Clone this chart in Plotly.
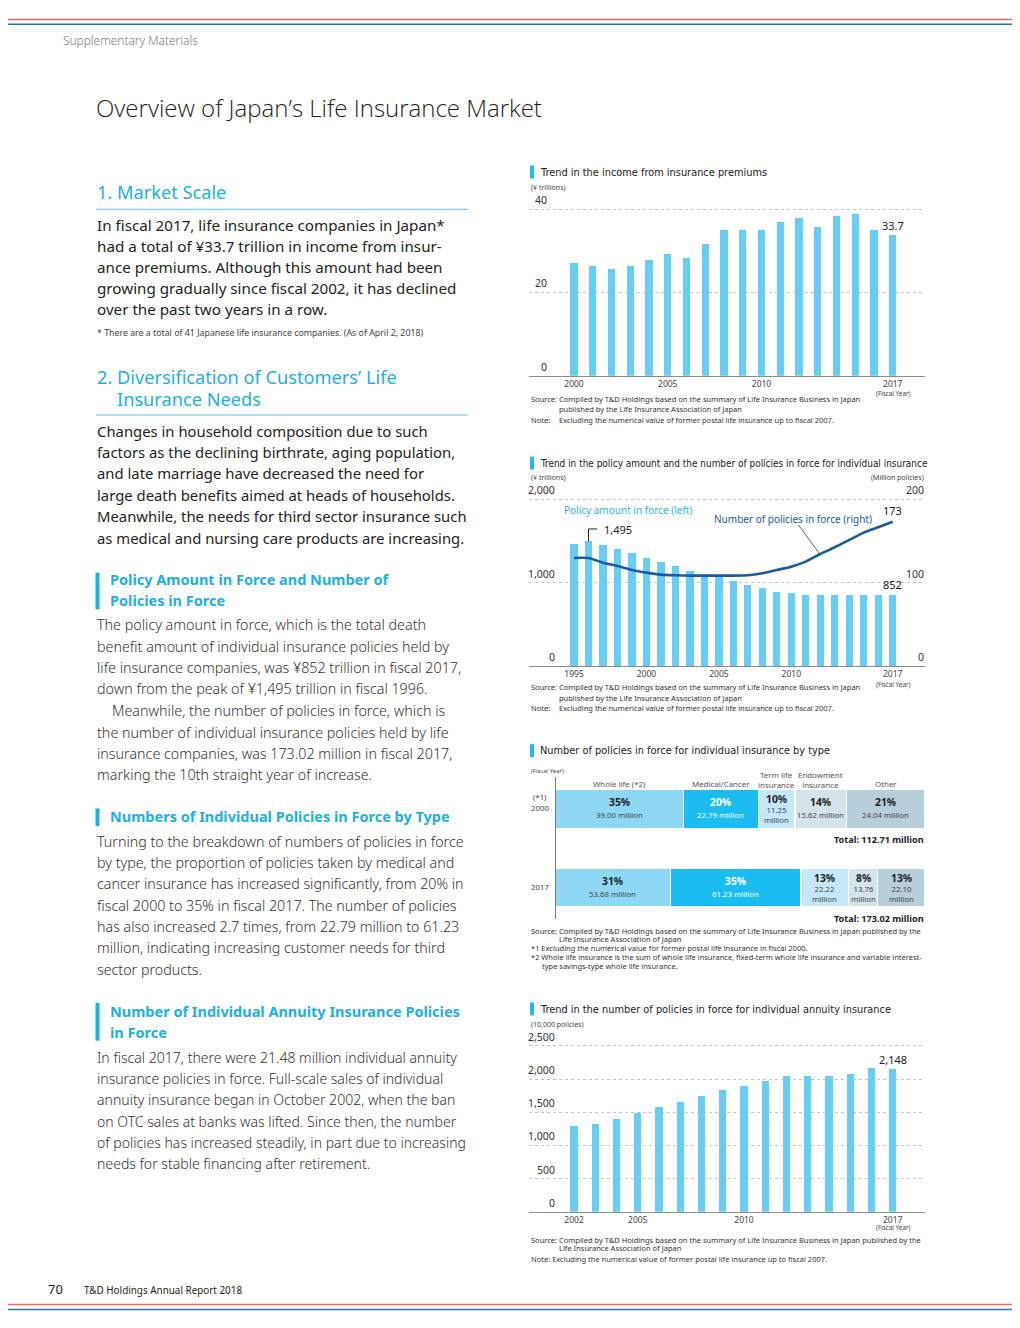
import plotly.graph_objects as go

# page is 1020x1328; the browser adds an 8px body margin, so the figure is
# 16px smaller and every page coordinate is shifted by 8px.
W, H = 1020, 1328
OFF = 8
FW, FH = W - 2 * OFF, H - 2 * OFF

# ---------------- data ----------------
years_premium = [2000, 2001, 2002, 2003, 2004, 2005, 2006, 2007, 2008,
                 2009, 2010, 2011, 2012, 2013, 2014, 2015, 2016, 2017]
premium_income = [27.0, 26.3, 25.7, 26.3, 27.7, 29.2, 28.4, 31.7, 35.1,
                  35.1, 35.0, 36.9, 37.9, 35.7, 38.5, 38.9, 35.0, 33.7]
premium_ticks = [2000, 2005, 2010, 2017]
premium_yticks = [0, 20, 40]

years_policy = [1995, 1996, 1997, 1998, 1999, 2000, 2001, 2002, 2003, 2004, 2005, 2006,
                2007, 2008, 2009, 2010, 2011, 2012, 2013, 2014, 2015, 2016, 2017]
policy_amount = [1460, 1495, 1452, 1400, 1352, 1300, 1244, 1200, 1144, 1100, 1064, 1016,
                 972, 932, 892, 872, 857, 850, 848, 848, 852, 855, 852]
policy_count = [129.6, 129.6, 124.0, 120.0, 115.2, 112.0, 109.6, 108.8, 108.4, 108.4, 108.4, 108.4,
                108.8, 111.2, 115.2, 119.2, 125.2, 134.4, 142.4, 151.2, 160.0, 166.4, 173.02]
policy_ticks = [1995, 2000, 2005, 2010, 2017]
policy_left_ticks = [0, 1000, 2000]
policy_left_text = ["0", "1,000", "2,000"]
policy_right_ticks = [0, 100, 200]

type_names = ["Whole life (*2)", "Medical/Cancer", "Term life<br>insurance",
              "Endowment<br>insurance", "Other"]
type_2000 = [39.00, 22.79, 11.25, 15.62, 24.04]
type_2017 = [53.68, 61.23, 22.22, 13.76, 22.10]
pct_2000 = ["35%", "20%", "10%", "14%", "21%"]
pct_2017 = ["31%", "35%", "13%", "8%", "13%"]
detail_2000 = ["39.00 million", "22.79 million", "11.25<br>million", "15.62 million", "24.04 million"]
detail_2017 = ["53.68 million", "61.23 million", "22.22<br>million", "13.76<br>million", "22.10<br>million"]
total_2000 = 112.71
total_2017 = 173.02

years_annuity = [2002, 2003, 2004, 2005, 2006, 2007, 2008, 2009,
                 2010, 2011, 2012, 2013, 2014, 2015, 2016, 2017]
annuity_count = [1293, 1323, 1398, 1494, 1579, 1660, 1740, 1831,
                 1901, 1972, 2042, 2047, 2047, 2072, 2173, 2148]
annuity_ticks = [2002, 2005, 2010, 2017]
annuity_yticks = [0, 500, 1000, 1500, 2000, 2500]
annuity_ytext = ["0", "500", "1,000", "1,500", "2,000", "2,500"]

# ---------------- style ----------------
BODY = "Noto Sans, Open Sans, sans-serif"
COND = "Liberation Sans Narrow, DejaVu Sans Condensed, Roboto, sans-serif"
CYAN = "#1bb0e6"
BAR = "#67cdf4"
DARKBLUE = "#1b5aa5"
TXT = "#231f20"
GRID = "#c4c4c4"
type_colors = ["#8fd8f5", "#1bbdf0", "#c3e8f8", "#d5e3eb", "#b7cedb"]
pct_colors = ["#222222", "#ffffff", "#222222", "#222222", "#222222"]
det_colors = ["#444444", "#ffffff", "#444444", "#444444", "#444444"]


def px(x):
    return (x - OFF) / FW


def py(y):
    return 1 - (y - OFF) / FH


annotations = []
shapes = []


def T(text, x, y, size, color=TXT, family=BODY, anchor="left", weight="normal",
      yanchor="middle", xref="paper", yref="paper", yshift=0):
    annotations.append(dict(
        text=text,
        x=px(x) if xref == "paper" else x,
        y=py(y) if yref == "paper" else y,
        xref=xref, yref=yref, xanchor=anchor, yanchor=yanchor, yshift=yshift,
        showarrow=False, borderpad=0,
        font=dict(size=size, color=color, family=family, weight=weight)))


def hline(x0, x1, y, color, width):
    shapes.append(dict(type="line", xref="paper", yref="paper", x0=px(x0), x1=px(x1),
                       y0=py(y), y1=py(y), line=dict(color=color, width=width)))


def rect(x0, x1, y0, y1, color):
    shapes.append(dict(type="rect", xref="paper", yref="paper", x0=px(x0), x1=px(x1),
                       y0=py(y1), y1=py(y0), fillcolor=color, line=dict(width=0)))


fig = go.Figure()

# ---------------- chart 1 ----------------
fig.add_trace(go.Bar(x=years_premium, y=premium_income, xaxis="x", yaxis="y",
                     width=0.39, marker=dict(color=BAR, line=dict(width=0))))
# ---------------- chart 2 ----------------
fig.add_trace(go.Bar(x=years_policy, y=policy_amount, xaxis="x2", yaxis="y2",
                     width=0.5, marker=dict(color=BAR, line=dict(width=0))))
fig.add_trace(go.Scatter(x=years_policy, y=policy_count, xaxis="x2", yaxis="y3", mode="lines",
                         line=dict(color=DARKBLUE, width=2.6, shape="spline", smoothing=0.6)))
# ---------------- chart 3 ----------------
share_2000 = [v / total_2000 * 100 for v in type_2000]
share_2017 = [v / total_2017 * 100 for v in type_2017]
for i in range(len(type_names)):
    fig.add_trace(go.Bar(y=[1, 0], x=[share_2000[i], share_2017[i]], orientation="h",
                         xaxis="x4", yaxis="y4", width=0.49,
                         marker=dict(color=type_colors[i], line=dict(color="white", width=1.2))))
# ---------------- chart 4 ----------------
fig.add_trace(go.Bar(x=years_annuity, y=annuity_count, xaxis="x5", yaxis="y5",
                     width=0.344, marker=dict(color=BAR, line=dict(width=0))))

tickfont = dict(size=8.5, color="#444", family=BODY)
xcommon = dict(showgrid=False, showline=True, linecolor="#8c8c8c", linewidth=1,
               ticks="", zeroline=False, tickfont=tickfont, fixedrange=True)
ycommon = dict(showgrid=True, gridcolor=GRID, griddash="dot", gridwidth=1,
               showticklabels=False, zeroline=False, ticks="", fixedrange=True)

fig.update_layout(
    width=FW, height=FH, margin=dict(l=0, r=0, t=0, b=0),
    paper_bgcolor="white", plot_bgcolor="rgba(0,0,0,0)",
    showlegend=False, barmode="stack", font=dict(family=BODY, color=TXT),
    xaxis=dict(domain=[px(529), px(925)], anchor="y", range=[1997.6, 2018.72],
               tickmode="array", tickvals=premium_ticks, **xcommon),
    yaxis=dict(domain=[py(375.7), py(205.1)], anchor="x", range=[0, 41],
               tickmode="array", tickvals=premium_yticks, **ycommon),
    xaxis2=dict(domain=[px(529), px(925)], anchor="y2", range=[1991.89, 2019.23],
                tickmode="array", tickvals=policy_ticks, **xcommon),
    yaxis2=dict(domain=[py(666), py(495.1)], anchor="x2", range=[0, 2050],
                tickmode="array", tickvals=policy_left_ticks, **ycommon),
    yaxis3=dict(overlaying="y2", anchor="x2", side="right", range=[0, 205],
                showgrid=False, showticklabels=False, zeroline=False, fixedrange=True),
    xaxis4=dict(domain=[px(555.7), px(925)], anchor="y4", range=[0, 100], visible=False,
                fixedrange=True),
    yaxis4=dict(domain=[py(919), py(777)], anchor="x4", range=[-0.41, 1.41],
                showline=True, linecolor="#7a7a7a", linewidth=1, showgrid=False,
                showticklabels=False, zeroline=False, ticks="", fixedrange=True),
    xaxis5=dict(domain=[px(529), px(925)], anchor="y5", range=[1999.88, 2018.52],
                tickmode="array", tickvals=annuity_ticks, **xcommon),
    yaxis5=dict(domain=[py(1211.7), py(1042)], anchor="x5", range=[0, 2560],
                tickmode="array", tickvals=annuity_yticks, **ycommon),
)

# ---------------- page decorations ----------------
hline(OFF, W - OFF, 19.5, "#e8646c", 1.6)
hline(OFF, W - OFF, 24.3, "#2a72b8", 1.6)
hline(OFF, W - OFF, 1304.5, "#e8646c", 1.6)
hline(OFF, W - OFF, 1309.5, "#2a72b8", 1.6)
T("Supplementary Materials", 62, 40, 11.9, color="#7a7a7a", family=BODY, weight=300)
T("Overview of Japan’s Life Insurance Market", 95, 108, 24.0, color="#231f20",
  family="Open Sans, Noto Sans", weight=300)
T("70", 47, 1289, 13, color="#231f20")
T("T&amp;D Holdings Annual Report 2018", 83, 1290, 9.9, color="#231f20")

# ---------------- left column ----------------
HS = 18.2
DY = -1.2
T("1. Market Scale", 96, 193.3 + DY, HS, color=CYAN)
hline(96, 468, 209.3, "#58c3ec", 1)
sec1 = ["In fiscal 2017, life insurance companies in Japan*",
        "had a total of ¥33.7 trillion in income from insur-",
        "ance premiums. Although this amount had been",
        "growing gradually since fiscal 2002, it has declined",
        "over the past two years in a row."]
for t, y in zip(sec1, [225.7, 246.7, 268.3, 289.3, 310.7]):
    T(t, 96, y + DY, 15.2)
T("* There are a total of 41 Japanese life insurance companies. (As of April 2, 2018)",
  96, 334 + DY, 8.8, color="#444")

T("2. Diversification of Customers’ Life", 96, 378.3 + DY, HS, color=CYAN)
T("Insurance Needs", 116, 400 + DY, HS, color=CYAN)
hline(96, 468, 415, "#58c3ec", 1)
sec2 = ["Changes in household composition due to such",
        "factors as the declining birthrate, aging population,",
        "and late marriage have decreased the need for",
        "large death benefits aimed at heads of households.",
        "Meanwhile, the needs for third sector insurance such",
        "as medical and nursing care products are increasing."]
for t, y in zip(sec2, [431.7, 453.3, 474.3, 496, 517.3, 539]):
    T(t, 96, y + DY, 14.85)

HB = 14.5
rect(95.5, 99.5, 572.7, 609.3, CYAN)
T("Policy Amount in Force and Number of", 109, 580 + DY, HB, color=CYAN, weight="bold")
T("Policies in Force", 109, 601 + DY, HB, color=CYAN, weight="bold")
sec3 = ["The policy amount in force, which is the total death",
        "benefit amount of individual insurance policies held by",
        "life insurance companies, was ¥852 trillion in fiscal 2017,",
        "down from the peak of ¥1,495 trillion in fiscal 1996.",
        "Meanwhile, the number of policies in force, which is",
        "the number of individual insurance policies held by life",
        "insurance companies, was 173.02 million in fiscal 2017,",
        "marking the 10th straight year of increase."]
for i, (t, y) in enumerate(zip(sec3, [625.7, 647.3, 668.7, 690, 711.7, 733.3, 754.3, 775.7])):
    T(t, 110.5 if i == 4 else 96, y + DY, 14.3, color="#333", weight=300)

rect(95.5, 99.5, 808.5, 826, CYAN)
T("Numbers of Individual Policies in Force by Type", 109, 816.7 + DY, HB, color=CYAN, weight="bold")
sec4 = ["Turning to the breakdown of numbers of policies in force",
        "by type, the proportion of policies taken by medical and",
        "cancer insurance has increased significantly, from 20% in",
        "fiscal 2000 to 35% in fiscal 2017. The number of policies",
        "has also increased 2.7 times, from 22.79 million to 61.23",
        "million, indicating increasing customer needs for third",
        "sector products."]
for t, y in zip(sec4, [842.3, 864, 885, 906.7, 927.7, 949, 970.3]):
    T(t, 96, y + DY, 14.25, color="#333", weight=300)

rect(95.5, 99.5, 1003, 1040.7, CYAN)
T("Number of Individual Annuity Insurance Policies", 109, 1011.7 + DY, HB, color=CYAN, weight="bold")
T("in Force", 109, 1032.7 + DY, HB, color=CYAN, weight="bold")
sec5 = ["In fiscal 2017, there were 21.48 million individual annuity",
        "insurance policies in force. Full-scale sales of individual",
        "annuity insurance began in October 2002, when the ban",
        "on OTC sales at banks was lifted. Since then, the number",
        "of policies has increased steadily, in part due to increasing",
        "needs for stable financing after retirement."]
for t, y in zip(sec5, [1058.3, 1079.3, 1101, 1122.3, 1143.3, 1165]):
    T(t, 96, y + DY, 14.05, color="#333", weight=300)

# ---------------- chart titles / notes ----------------
NS = 7.5
NC = "#333"


def chart_title(text, y, size=10.9):
    rect(530, 534, y - 6.5, y + 6.5, "#1bbdf0")
    T(text, 539, y, size, color="#222", family=COND)


# chart 1
chart_title("Trend in the income from insurance premiums", 172)
T("(¥ trillions)", 530, 187.7, 7, color="#444")
for v in premium_yticks:
    T(str(v), 548, v, 10.5, color="#333", anchor="right", yanchor="bottom",
      xref="paper", yref="y", yshift=1)
T("33.7", years_premium[-1], premium_income[-1], 11, color="#222", anchor="center",
  yanchor="bottom", xref="x", yref="y", yshift=1)
T("(Fiscal Year)", 893.5, 393.3, 6.3, color="#444", anchor="center")
T("Source:", 530, 399, NS, color=NC)
T("Compiled by T&amp;D Holdings based on the summary of Life Insurance Business in Japan", 557.5, 399, NS, color=NC)
T("published by the Life Insurance Association of Japan", 557.5, 409.3, NS, color=NC)
T("Note:", 530, 420, NS, color=NC)
T("Excluding the numerical value of former postal life insurance up to fiscal 2007.", 557.5, 420, NS, color=NC)

# chart 2
chart_title("Trend in the policy amount and the number of policies in force for individual insurance",
            463, size=9.95)
T("(¥ trillions)", 530, 478, 7, color="#444")
T("(Million policies)", 925, 478, 7, color="#444", anchor="right")
for v, t in zip(policy_left_ticks, policy_left_text):
    T(t, 556, v, 10.5, color="#333", anchor="right", yanchor="bottom",
      xref="paper", yref="y2", yshift=1)
for v in policy_right_ticks:
    T(str(v), 925, v, 10.5, color="#333", anchor="right", yanchor="bottom",
      xref="paper", yref="y3", yshift=1)
T("Policy amount in force (left)", 563, 510, 10, color="#2ab5ea")
T("Number of policies in force (right)", 713, 519, 10, color=DARKBLUE)
shapes.append(dict(type="line", xref="x2", yref="y3", x0=2010.49, y0=169.2, x1=2011.96, y1=134.4,
                   line=dict(color="#333", width=0.8)))
# 1,495 bracket
shapes.append(dict(type="line", xref="x2", yref="y2", x0=years_policy[1], y0=policy_amount[1],
                   x1=years_policy[1], y1=1644, line=dict(color="#222", width=1)))
shapes.append(dict(type="line", xref="x2", yref="y2", x0=years_policy[1], y0=1644,
                   x1=1996.6, y1=1644, line=dict(color="#222", width=1)))
T("1,495", 1997.0, 1636, 11, color="#222", anchor="left", xref="x2", yref="y2")
T("173", years_policy[-1], policy_count[-1], 11, color="#222", anchor="center",
  yanchor="bottom", xref="x2", yref="y3", yshift=3)
T("852", years_policy[-1], policy_amount[-1], 11, color="#222", anchor="center",
  yanchor="bottom", xref="x2", yref="y2", yshift=2)
T("(Fiscal Year)", 893.5, 684.3, 6.3, color="#444", anchor="center")
T("Source:", 530, 686.7, NS, color=NC)
T("Compiled by T&amp;D Holdings based on the summary of Life Insurance Business in Japan", 557.5, 686.7, NS, color=NC)
T("published by the Life Insurance Association of Japan", 557.5, 697.5, NS, color=NC)
T("Note:", 530, 708.3, NS, color=NC)
T("Excluding the numerical value of former postal life insurance up to fiscal 2007.", 557.5, 708.3, NS, color=NC)

# chart 3
chart_title("Number of policies in force for individual insurance by type", 750.7)
T("(Fiscal Year)", 530, 771, 6, color="#444")
T("(*1)", 540, 797.3, 7.8, color="#444", anchor="center")
T("2000", 540, 808.3, 7.8, color="#444", anchor="center")
T("2017", 540, 886.7, 7.8, color="#444", anchor="center")
cum = 0
for i in range(len(type_names)):
    mid = cum + share_2000[i] / 2
    cum += share_2000[i]
    two = "<br>" in type_names[i]
    T(type_names[i], mid, 780.2 if two else 784.3, 7.9, color="#555", anchor="center",
      xref="x4", yref="paper")
    three = "<br>" in detail_2000[i]
    T("<b>" + pct_2000[i] + "</b>", mid, 1, 10.3, color=pct_colors[i], anchor="center",
      xref="x4", yref="y4", yshift=10 if three else 6.5)
    T(detail_2000[i], mid, 1, 7.8, color=det_colors[i], anchor="center",
      xref="x4", yref="y4", yshift=-6.5 if three else -6)
cum = 0
for i in range(len(type_names)):
    mid = cum + share_2017[i] / 2
    cum += share_2017[i]
    three = "<br>" in detail_2017[i]
    T("<b>" + pct_2017[i] + "</b>", mid, 0, 10.3, color=pct_colors[i], anchor="center",
      xref="x4", yref="y4", yshift=9 if three else 6)
    T(detail_2017[i], mid, 0, 7.8, color=det_colors[i], anchor="center",
      xref="x4", yref="y4", yshift=-6.5 if three else -7)
T("<b>Total: %.2f million</b>" % total_2000, 925, 839.3, 9.1, color="#222", anchor="right")
T("<b>Total: %.2f million</b>" % total_2017, 925, 918.3, 9.1, color="#222", anchor="right")
T("Source: Compiled by T&amp;D Holdings based on the summary of Life Insurance Business in Japan published by the",
  530, 930.7, NS, color=NC)
T("Life Insurance Association of Japan", 557.5, 939, NS, color=NC)
T("*1 Excluding the numerical value for former postal life insurance in fiscal 2000.", 530, 947.5, NS, color=NC)
T("*2 Whole life insurance is the sum of whole life insurance, fixed-term whole life insurance and variable interest-",
  530, 956.7, NS, color=NC)
T("type savings-type whole life insurance.", 541, 965.7, NS, color=NC)

# chart 4
chart_title("Trend in the number of policies in force for individual annuity insurance", 1009)
T("(10,000 policies)", 530, 1024, 7, color="#444")
for v, t in zip(annuity_yticks, annuity_ytext):
    T(t, 556, v, 10.5, color="#333", anchor="right", yanchor="bottom",
      xref="paper", yref="y5", yshift=1)
T("2,148", years_annuity[-1], annuity_count[-1], 11, color="#222", anchor="center",
  yanchor="bottom", xref="x5", yref="y5", yshift=1)
T("(Fiscal Year)", 893.5, 1227.3, 6.3, color="#444", anchor="center")
T("Source: Compiled by T&amp;D Holdings based on the summary of Life Insurance Business in Japan published by the",
  530, 1240, NS, color=NC)
T("Life Insurance Association of Japan", 557.5, 1248.3, NS, color=NC)
T("Note: Excluding the numerical value of former postal life insurance up to fiscal 2007.", 530, 1259.3, NS, color=NC)

fig.update_layout(annotations=annotations, shapes=shapes)
fig.write_html("out.html")
